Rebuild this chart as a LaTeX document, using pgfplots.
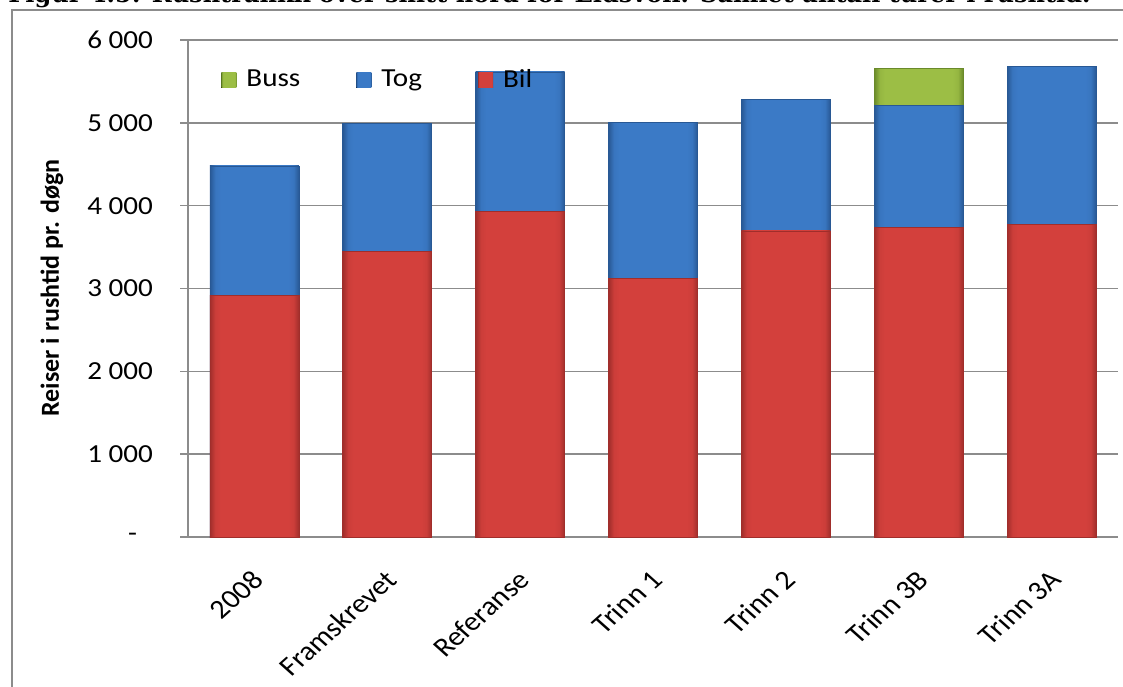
\documentclass[border=0pt]{standalone}
\usepackage{pgfplots}
\pgfplotsset{compat=1.18}
\usepackage{fontspec}
\setmainfont{Carlito}
\newfontfamily\titlefont{DejaVu Serif}
\definecolor{redM}{HTML}{D3403C}
\definecolor{redD}{HTML}{A02E2B}
\definecolor{blueM}{HTML}{3B7AC6}
\definecolor{blueD}{HTML}{285894}
\definecolor{greenM}{HTML}{9CBE45}
\definecolor{greenD}{HTML}{6A8A2A}
\definecolor{gridgray}{HTML}{8C8C8C}
\pgfdeclarehorizontalshading{redbar}{100bp}{color(0bp)=(redD); color(25bp)=(redD); color(28bp)=(redM!85!redD); color(31bp)=(redM); color(69bp)=(redM); color(72bp)=(redM!85!redD); color(75bp)=(redD); color(100bp)=(redD)}
\pgfdeclarehorizontalshading{bluebar}{100bp}{color(0bp)=(blueD); color(25bp)=(blueD); color(28bp)=(blueM!85!blueD); color(31bp)=(blueM); color(69bp)=(blueM); color(72bp)=(blueM!85!blueD); color(75bp)=(blueD); color(100bp)=(blueD)}
\pgfdeclarehorizontalshading{greenbar}{100bp}{color(0bp)=(greenD); color(25bp)=(greenD); color(28bp)=(greenM!85!greenD); color(31bp)=(greenM); color(69bp)=(greenM); color(72bp)=(greenM!85!greenD); color(75bp)=(greenD); color(100bp)=(greenD)}
\newcommand\hs[1]{\scalebox{1.12}[1]{#1}}
\begin{document}
\begin{tikzpicture}[x=0.5pt,y=0.5pt]
\useasboundingbox (0,0) rectangle (1123,686);
\clip (0,0) rectangle (1123,686);
\node[anchor=base west, inner sep=0pt] at (8,683) {\resizebox{541pt}{!}{\titlefont\bfseries Figur 4.5: Rushtrafikk over snitt nord for Eidsvoll. Samlet antall turer i rushtid.}};
\draw[gridgray, line width=0.8pt] (12,-20) -- (12,676) -- (1140,676);
\node[rotate=90, font=\fontsize{13}{15}\selectfont\bfseries] at (52,398) {Reiser i rushtid pr. døgn};
\begin{axis}[
  at={(94pt,74.5pt)}, anchor=south west,
  scale only axis, width=465pt, height=248.5pt,
  ybar, bar width=0.67, bar shift=0pt,
  xmin=-0.5, xmax=6.5, ymin=0, ymax=6000,
  axis lines*=left,
  axis line style={gridgray, line width=0.75pt},
  ytick={0,1000,...,6000},
  yticklabels={\hs{-}\rule{8pt}{0pt}, \hs{1 000}, \hs{2 000}, \hs{3 000}, \hs{4 000}, \hs{5 000}, \hs{6 000}},
  ymajorgrids, grid style={gridgray, line width=0.75pt},
  major y tick style={gridgray, line width=0.75pt},
  tick align=outside, major tick length=4pt,
  y tick label style={font=\fontsize{13}{15}\selectfont, anchor=east, xshift=-10pt},
  xtick={0,...,6},
  xticklabels={2008, Framskrevet, Referanse, Trinn 1, Trinn 2, Trinn 3B, Trinn 3A},
  major x tick style={draw=none},
  x tick label style={font=\fontsize{13.5}{15}\selectfont, inner sep=0pt, xshift=2pt, yshift=-15pt, xscale=1.12, rotate=45, anchor=east},
  extra x ticks={-0.5,0.5,...,6.5},
  extra x tick labels={},
  extra x tick style={grid=none, major tick length=4pt, tick style={draw=gridgray, line width=0.75pt}},
  legend columns=3,
  legend style={at={(axis description cs:0.0355,0.9195)}, anchor=west, draw=none, fill=none, inner sep=0pt,
    font=\fontsize{13}{15}\selectfont,
    /tikz/every odd column/.append style={column sep=3pt},
    /tikz/every even column/.append style={column sep=26pt}},
  legend image code/.code={\fill[#1, draw=none] (0pt,-3.75pt) rectangle (7.5pt,3.75pt);},
  redbarstyle/.style={forget plot, shading=redbar, draw=redD, line width=0.4pt},
  bluebarstyle/.style={forget plot, shading=bluebar, draw=blueD, line width=0.4pt},
  greenbarstyle/.style={forget plot, shading=greenbar, draw=greenD, line width=0.4pt},
]
% Buss (top of stack: Bil + Tog + Buss)
\addplot[greenbarstyle] coordinates {(5,5655)};
% Tog (top of Tog segment: Bil + Tog)
\addplot[bluebarstyle] coordinates {(0,4480)};
\addplot[bluebarstyle] coordinates {(1,4990)};
\addplot[bluebarstyle] coordinates {(2,5615)};
\addplot[bluebarstyle] coordinates {(3,5008)};
\addplot[bluebarstyle] coordinates {(4,5279)};
\addplot[bluebarstyle] coordinates {(5,5210)};
\addplot[bluebarstyle] coordinates {(6,5683)};
% Bil
\addplot[redbarstyle] coordinates {(0,2920)};
\addplot[redbarstyle] coordinates {(1,3446)};
\addplot[redbarstyle] coordinates {(2,3932)};
\addplot[redbarstyle] coordinates {(3,3117)};
\addplot[redbarstyle] coordinates {(4,3695)};
\addplot[redbarstyle] coordinates {(5,3735)};
\addplot[redbarstyle] coordinates {(6,3776)};
\addlegendimage{shading=greenbar}
\addlegendentry{\hs{Buss}}
\addlegendimage{shading=bluebar}
\addlegendentry{\hs{Tog}}
\addlegendimage{shading=redbar}
\addlegendentry{\hs{Bil}}
\end{axis}
\end{tikzpicture}
\end{document}
